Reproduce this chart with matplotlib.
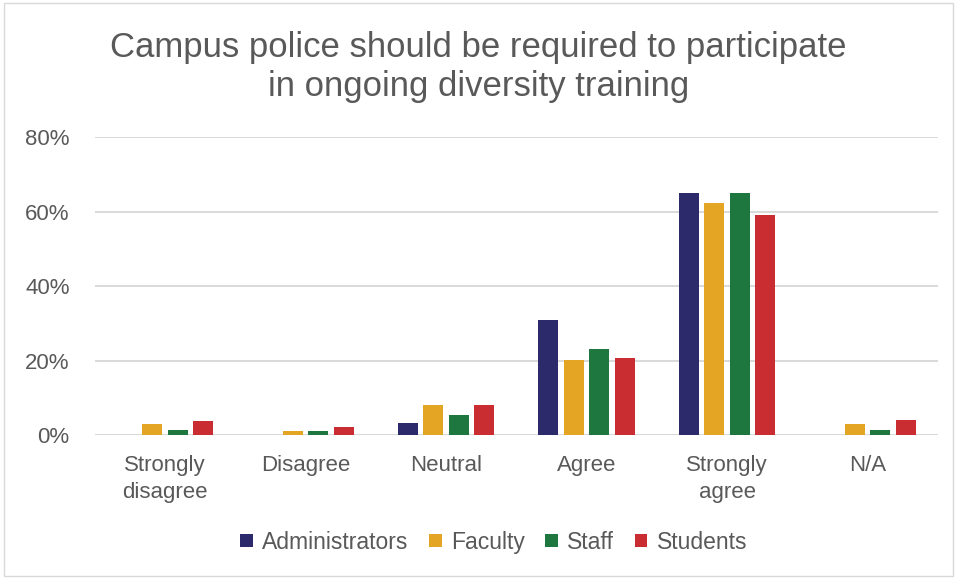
import numpy as np
import matplotlib.pyplot as plt
import matplotlib.patches as patches
from matplotlib.ticker import FuncFormatter

plt.rcParams['font.family'] = ['Liberation Sans', 'DejaVu Sans']

categories = ["Strongly\ndisagree", "Disagree", "Neutral", "Agree", "Strongly\nagree", "N/A"]
series_names = ["Administrators", "Faculty", "Staff", "Students"]
administrators = [0.0, 0.0, 3.3, 30.8, 65.1, 0.0]
faculty = [3.0, 1.2, 8.1, 20.3, 62.3, 3.1]
staff = [1.5, 1.2, 5.5, 23.1, 65.1, 1.3]
students = [3.8, 2.2, 8.1, 20.6, 59.1, 4.1]
colors = ["#2d2a6b", "#e4a424", "#1e773e", "#c92d31"]

fig = plt.figure(figsize=(9.57, 5.78), dpi=100)
ax = fig.add_axes([0.099, 0.247, 0.881, 0.516])

x = np.arange(len(categories))
width = 0.143
pitch = 0.181
all_series = [administrators, faculty, staff, students]
for i, (name, vals, c) in enumerate(zip(series_names, all_series, colors)):
    offs = (i - 1.5) * pitch
    ax.bar(x + offs, vals, width, color=c, label=name, zorder=3)

ax.set_ylim(0, 80)
ax.set_xlim(-0.5, len(categories) - 0.5)
ax.set_yticks([0, 20, 40, 60, 80])
ax.yaxis.set_major_formatter(FuncFormatter(lambda v, p: f"{int(v)}%"))
ax.set_xticks(x)
ax.set_xticklabels(categories, fontsize=16, color="#595959", linespacing=1.4)
ax.tick_params(axis='y', labelsize=16, labelcolor="#595959", length=0, pad=18)
ax.tick_params(axis='x', length=0, pad=14)
ax.grid(axis='y', color="#d9d9d9", linewidth=1.4, zorder=0)
for s in ax.spines.values():
    s.set_visible(False)
ax.axhline(0, color="#d9d9d9", linewidth=1.4, zorder=2)

fig.text(0.5, 0.884, "Campus police should be required to participate\nin ongoing diversity training",
         ha='center', va='center', fontsize=25, color="#595959", linespacing=1.2)

leg = fig.legend(loc='center', bbox_to_anchor=(0.516, 0.062), ncol=4, frameon=False,
                 fontsize=16.5, handlelength=0.55, handleheight=0.55, handletextpad=0.4,
                 columnspacing=0.9)
for t in leg.get_texts():
    t.set_color("#595959")

fig.patches.append(patches.Rectangle((0.004, 0.004), 0.992, 0.99, transform=fig.transFigure,
                                     fill=False, edgecolor="#d9d9d9", linewidth=1))

fig.savefig("out.png", dpi=100)
